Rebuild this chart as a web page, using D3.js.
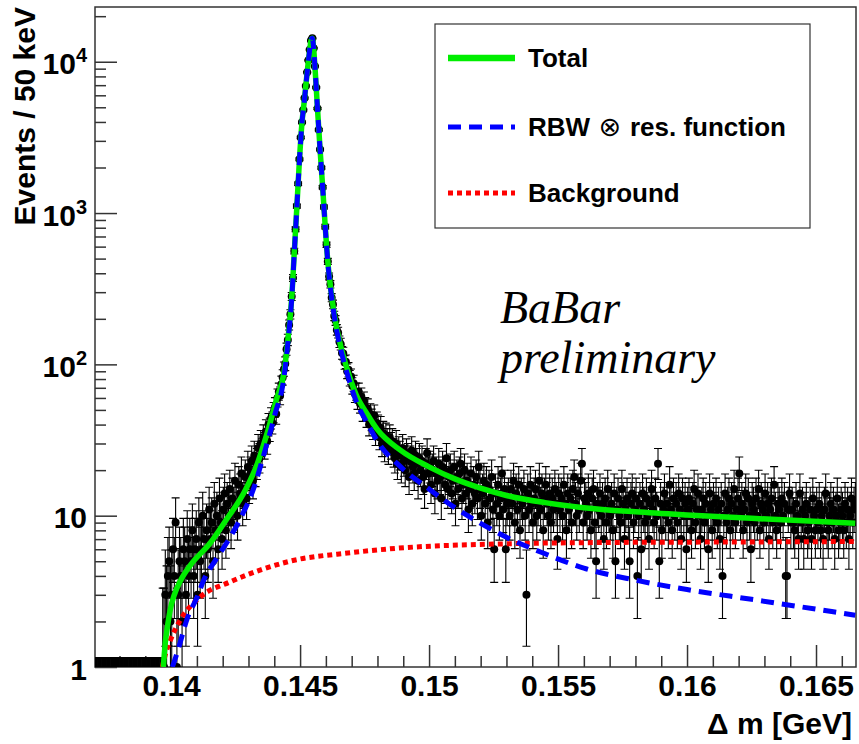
<!DOCTYPE html>
<html>
<head>
<meta charset="utf-8">
<script src="https://cdn.jsdelivr.net/npm/d3@7"></script>
<style>
  body { margin: 0; background: #fff; }
  svg text { font-family: "Liberation Sans", Arial, Helvetica, sans-serif; font-weight: bold; fill: #000; }
</style>
</head>
<body>
<svg id="chart" width="859" height="744"></svg>
<script>
// histogram binning, GeV (50 keV bins)
const binLow = 0.13705;
const binWidth = 0.00005;

// events per bin
// bins 0..50: below the pi+ threshold
const countsBelowThreshold = [0,0,0,0,0,0,0,0,0,0, 0,0,0,0,0,0,0,0,0,0, 0,0,0,0,0,0,0,0,0,0,
  0,0,0,0,0,0,0,0,0,0, 0,0,0,0,0,0,0,0,0,0, 0];
// bins 51..145: threshold rise
const countsRise = [0,1,1,3,2,4,5,2,3,6,4,9,
  1,3,5,4,2,6,5,3,7,4, 6,5,8,4,6,7,3,9,5,6, 10,7,4,8,6,11,7,9,5,12,
  8,10,6,13,9,7,11,14,8,12, 10,15,9,13,11,17,12,10,16,14, 19,12,15,18,13,21,16,19,23,17,
  25,20,22,28,24,30,26,33,29,36, 31,40,37,44,41,48,52,47,60,66, 62,74,82];
// bins 146..202: D* peak
const countsPeak = [93,101,126,145,182,214,281,372,561,781,
  1112,1562,2265,3160,3980,4790,5750,6920,8510,10230,
  12020,13800,14290,12300,9330,6760,4900,3550,2630,1995,
  1480,1096,813,617,479,381,338,276,249,209,
  195,169,162,141,136,119,118,103,104,90,
  92,81,83,72,75,64,66];
// bins 203..589: high-mass tail
const countsTail = [58,66,55,61,49,57,52,
  45,51,40,47,43,38,46,35,41,39, 33,38,30,35,28,34,31,27,33,29, 31,26,24,30,22,27,25,21,28,23,
  20,26,24,18,23,27,21,19,25,22, 17,24,20,23,18,15,22,26,19,21, 16,20,23,14,19,17,22,18,13,21,
  19,16,24,15,18,20,14,17,21,12, 18,15,19,22,13,16,20,14,17,11, 15,19,12,16,14,18,13,21,15,10,
  14,17,12,16,9,15,13,18,11,6, 14,12,16,10,13,19,11,15,6,12, 13,10,15,12,17,9,14,11,16,8,
  13,12,15,10,3,14,11,16,12,9, 13,15,10,12,17,11,14,8,13,16, 12,10,14,9,13,11,15,12,7,14,
  11,13,10,16,12,8,14,11,13,9, 15,18,12,10,14,11,17,22,9,13, 12,10,14,11,8,13,15,9,5,12,
  11,14,10,12,7,13,9,15,11,10, 12,8,14,5,11,13,10,9,15,12, 7,11,13,10,5,12,14,9,11,13,
  4,10,12,6,14,11,9,13,10,7, 12,15,11,9,13,10,22,5,12,8, 11,14,10,12,9,16,11,8,13,10,
  12,9,14,11,7,13,10,12,6,11, 13,10,8,12,15,9,11,14,10,7, 11,13,9,12,10,6,14,11,8,12,
  10,13,9,11,7,12,4,10,14,9, 11,13,8,12,10,15,9,11,13,19, 10,12,8,11,14,9,13,10,6,12,
  11,9,13,10,15,8,12,11,9,14, 10,12,7,11,13,9,16,10,8,12, 11,9,13,10,12,4,4,11,14,9,
  11,9,8,12,10,7,14,9,11,7, 10,12,8,9,11,7,13,10,8,11, 9,12,8,10,7,11,14,9,8,10,
  12,9,11,7,10,13,8,9,11,10, 8,12,9,11,7,10,13,9,11,12];

// fit curves
const totalMass = [0.13970,0.139776,0.139853,0.139969,0.140124,0.140356,0.140743,0.141517,0.14210,0.14288,0.14334,0.14372,0.14410,
  0.144375,0.144475,0.144575,0.144675,0.144775,0.144875,0.144975,0.145075,0.145175,0.145275,0.145375,0.145425,0.145475,
  0.145525,0.145575,0.145675,0.145775,0.145875,0.145975,0.146075,0.146225,0.146375,0.146575,0.146825,0.147175,
  0.1476,0.1480,0.1489,0.1500,0.1510,0.1520,0.1530,0.1545,0.1560,0.1580,0.1600,0.1625,0.16652];
const totalFit = [1.0,1.45,1.82,2.4,3.0,3.7,4.7,6.6,9.2,14.8,22,35,60,
  88,120,175,275,550,1096,2240,3980,5750,8510,12020,13800,14290,
  12300,9330,4900,2630,1480,813,479,282,191,132,93,63,
  47,37,27,21,17.5,15.2,13.6,12.2,11.3,10.6,10.1,9.6,8.9];

const rbwMass = [0.14005,0.14024,0.14063,0.14101,0.14125,0.14179,0.14229,0.14279,0.14318,0.14357,0.14403,
  0.144375,0.144475,0.144575,0.144675,0.144775,0.144875,0.144975,0.145075,0.145175,0.145275,0.145375,0.145425,0.145475,
  0.145525,0.145575,0.145675,0.145775,0.145875,0.145975,0.146075,0.146225,0.146375,0.146575,0.146825,0.147175,
  0.1476,0.1480,0.1489,0.1500,0.1510,0.1520,0.1530,0.1545,0.1560,0.1580,0.1600,0.1625,0.16652];
const rbwFit = [1.0,1.25,2.1,2.9,3.7,5.3,7.2,10.4,14.8,24.5,47,
  82,114,169,269,544,1090,2233,3974,5744,8504,12014,13794,14284,
  12294,9324,4894,2624,1474,807,473,276,185,126,87,57,
  41,31,21,15,11.3,8.9,7.2,5.6,4.5,3.75,3.25,2.8,2.2];

const bkgMass = [0.13966,0.13980,0.13997,0.14036,0.14113,0.14229,0.1435,0.1446,0.1470,0.1488,0.1527,0.1570,0.1620,0.16652];
const bkgFit = [1.0,1.25,1.5,2.05,2.9,3.65,4.4,5.0,5.7,6.1,6.5,6.65,6.7,6.75];

const xMajorTicks = [0.14, 0.145, 0.15, 0.155, 0.16, 0.165];
const xTickLabels = ['0.14', '0.145', '0.15', '0.155', '0.16', '0.165'];
const yMajorTicks = [1, 10, 100, 1000, 10000];

const legendItems = [
  {label: 'Total', color: '#00ee00', dash: null},
  {label: 'RBW', sym: ' \u2297 ', rest: 'res. function', color: '#0000ff', dash: '13,8'},
  {label: 'Background', color: '#ff0000', dash: '5,4'}
];

const counts = countsBelowThreshold.concat(countsRise, countsPeak, countsTail);
const bins = counts.map((n, i) => ({m: binLow + binWidth * (i + 0.5), n: n}));

const plot = {left: 95, top: 7, right: 856, bottom: 667};
const svg = d3.select('#chart');

const x = d3.scaleLinear()
    .domain([binLow, binLow + binWidth * counts.length])
    .range([plot.left, plot.right]);
const y = d3.scaleLog()
    .domain([1, 23000])
    .range([plot.bottom, plot.top]);

svg.append('rect').attr('width', 859).attr('height', 744).attr('fill', '#fff');

svg.append('clipPath').attr('id', 'frame-clip')
    .append('rect')
    .attr('x', plot.left).attr('y', plot.top)
    .attr('width', plot.right - plot.left)
    .attr('height', plot.bottom - plot.top);

// axes ticks (inside the frame)
const axisColor = '#333';
const xMinor = d3.range(138, 167).map(d => d / 1000).filter(d => xMajorTicks.indexOf(d) < 0);
const yMinor = [];
[1, 10, 100, 1000, 10000].forEach(dec => {
    for (let k = 2; k <= 9; k++) if (dec * k < 23000) yMinor.push(dec * k);
});

const gx = svg.append('g').attr('transform', `translate(0,${plot.bottom})`);
gx.append('g').call(d3.axisBottom(x).tickValues(xMinor).tickSizeInner(-11).tickSizeOuter(0).tickFormat(''));
gx.append('g').call(d3.axisBottom(x).tickValues(xMajorTicks).tickSizeInner(-22).tickSizeOuter(0).tickPadding(8)
    .tickFormat((d, i) => xTickLabels[i]));
gx.selectAll('.domain').remove();
gx.selectAll('line').attr('stroke', axisColor).attr('stroke-width', 1.5);
gx.selectAll('text').attr('font-size', 30).attr('fill', '#000');

const gy = svg.append('g').attr('transform', `translate(${plot.left},0)`);
gy.append('g').call(d3.axisLeft(y).tickValues(yMinor).tickSizeInner(-11).tickSizeOuter(0).tickFormat(''));
gy.append('g').call(d3.axisLeft(y).tickValues(yMajorTicks).tickSizeInner(-22).tickSizeOuter(0).tickFormat(''));
gy.selectAll('.domain').remove();
gy.selectAll('line').attr('stroke', axisColor).attr('stroke-width', 1.5);

const ylab = svg.append('g').selectAll('text')
    .data(yMajorTicks)
    .join('text')
    .attr('x', 87)
    .attr('y', d => y(d) + 12.5)
    .attr('text-anchor', 'end')
    .attr('font-size', 30);
ylab.each(function (d) {
    const e = Math.round(Math.log10(d));
    const t = d3.select(this);
    if (e < 2) { t.text(d); return; }
    t.append('tspan').text('10');
    t.append('tspan').attr('font-size', 20).attr('dy', -12).text(e);
});

// frame
svg.append('rect')
    .attr('x', plot.left).attr('y', plot.top)
    .attr('width', plot.right - plot.left)
    .attr('height', plot.bottom - plot.top)
    .attr('fill', 'none')
    .attr('stroke', axisColor)
    .attr('stroke-width', 1.5);

// data points with poisson errors
const upperErr = n => n === 0 ? 1.148 : n + 1 + Math.sqrt(n + 0.75);
const lowerErr = n => n === 0 ? 0 : n * Math.pow(1 - 1 / (9 * n) - 1 / (3 * Math.sqrt(n)), 3);
const ypos = v => v > 0 ? y(v) : plot.bottom + 30;

const dataG = svg.append('g').attr('clip-path', 'url(#frame-clip)');
dataG.append('g')
    .attr('stroke', '#000')
    .attr('fill', 'none')
    .selectAll('path')
    .data(bins)
    .join('path')
    .attr('stroke-width', d => d.n === 0 ? 2 : 1.1)
    .attr('d', d => {
        const cx = x(d.m), yh = ypos(upperErr(d.n)), yl = ypos(lowerErr(d.n));
        return `M${cx},${yl}V${yh}M${cx - 4},${yh}H${cx + 4}M${cx - 4},${yl}H${cx + 4}`;
    });
dataG.append('g')
    .selectAll('circle')
    .data(bins.filter(d => d.n > 0))
    .join('circle')
    .attr('cx', d => x(d.m))
    .attr('cy', d => y(d.n))
    .attr('r', 4)
    .attr('fill', '#000');

// fit curves
const line = d3.line()
    .x(d => x(d[0]))
    .y(d => y(d[1]))
    .curve(d3.curveMonotoneX);

const curveG = svg.append('g').attr('clip-path', 'url(#frame-clip)').attr('fill', 'none');
curveG.append('path')
    .attr('d', line(d3.zip(bkgMass, bkgFit)))
    .attr('stroke', '#ff0000').attr('stroke-width', 5).attr('stroke-dasharray', '5,4');
curveG.append('path')
    .attr('d', line(d3.zip(totalMass, totalFit)))
    .attr('stroke', '#00ee00').attr('stroke-width', 5.5);
curveG.append('path')
    .attr('d', line(d3.zip(rbwMass, rbwFit)))
    .attr('stroke', '#0000ff').attr('stroke-width', 5).attr('stroke-dasharray', '13,8');

// axis titles
svg.append('text')
    .attr('transform', 'translate(35,7) rotate(-90)')
    .attr('text-anchor', 'end')
    .attr('font-size', 30)
    .text('Events / 50 keV');
svg.append('text')
    .attr('x', 852).attr('y', 734)
    .attr('text-anchor', 'end')
    .attr('font-size', 30)
    .text('\u0394 m [GeV]');

// legend
const legend = svg.append('g');
legend.append('rect')
    .attr('x', 435).attr('y', 24).attr('width', 375).attr('height', 204)
    .attr('fill', '#fff').attr('stroke', '#333').attr('stroke-width', 1.2);
const rows = legend.selectAll('g.row')
    .data(legendItems)
    .join('g')
    .attr('transform', (d, i) => `translate(0,${[58, 127, 193][i]})`);
rows.append('line')
    .attr('x1', 448).attr('x2', 515)
    .attr('stroke', d => d.color)
    .attr('stroke-width', d => d.dash ? 5 : 6.5)
    .attr('stroke-dasharray', d => d.dash);
rows.append('text')
    .attr('x', 528).attr('y', 9)
    .attr('font-size', 26)
    .each(function (d) {
        const t = d3.select(this);
        t.append('tspan').text(d.label);
        if (d.sym) {
            t.append('tspan').attr('font-weight', 'normal').attr('font-family', 'DejaVu Sans').attr('font-size', 27).text(d.sym);
            t.append('tspan').text(d.rest);
        }
    });

// experiment label
const tag = svg.append('g');
tag.append('text').attr('x', 500).attr('y', 323).text('BaBar');
tag.append('text').attr('x', 500).attr('y', 373).text('preliminary');
tag.selectAll('text')
    .attr('font-size', 46)
    .style('font-family', '"Liberation Serif", "Times New Roman", serif')
    .style('font-style', 'italic')
    .style('font-weight', 'normal');
</script>
</body>
</html>
